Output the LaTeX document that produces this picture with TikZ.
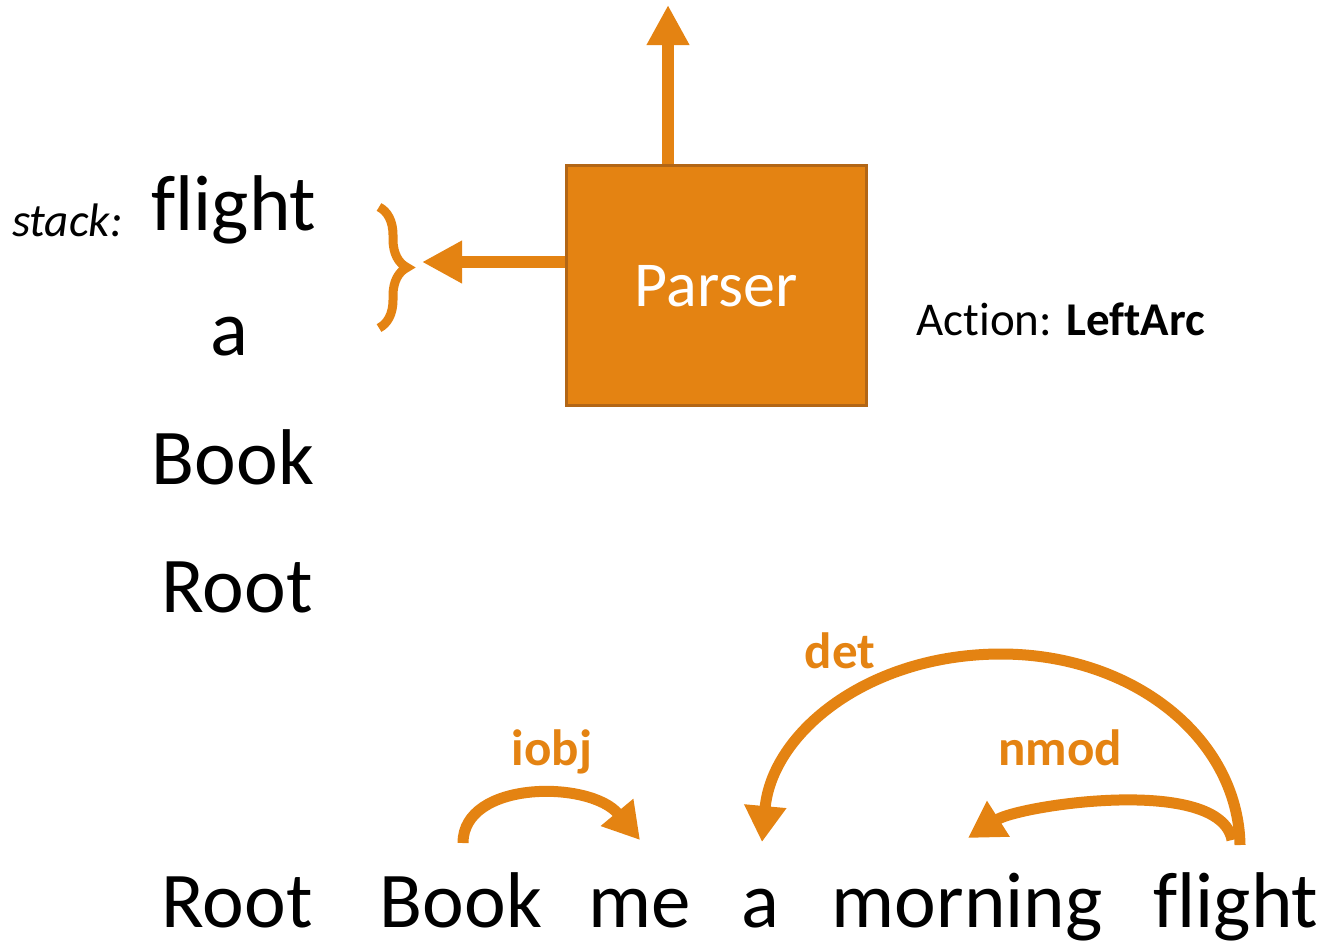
\documentclass[tikz,border=0pt]{standalone}
\usepackage{fontspec}
\setmainfont{Carlito}[Ligatures=NoCommon]
\usetikzlibrary{arrows.meta,decorations.pathreplacing}
\definecolor{parserorange}{RGB}{228,131,18}
\definecolor{parseredge}{RGB}{178,102,22}
\tikzset{
  word/.style={font=\fontsize{39.5}{47}\selectfont, inner sep=0pt, text depth=0pt, anchor=base},
  deplabel/.style={font=\fontsize{25.5}{30}\selectfont\bfseries, text=parserorange, inner sep=0pt, anchor=base},
  deparc/.style={draw=parserorange, line width=5.5pt, -{Triangle[length=18pt,width=20pt]}},
  bigarrow/.style={draw=parserorange, line width=6pt, -{Triangle[length=20pt,width=20pt]}},
}
\begin{document}
\begin{tikzpicture}[x=0.5pt,y=-0.5pt]
    \useasboundingbox (0,0) rectangle (1325,943);

    \node[draw=parseredge, line width=1.5pt, fill=parserorange, minimum width=150pt, minimum height=120pt,
          text=white, text depth=0pt, font=\fontsize{32}{38}\selectfont] (parser) at (716,285.5) {Parser};
    \node[anchor=base west, inner sep=0pt, font=\fontsize{23.5}{28}\selectfont] (action) at (916,335) {Action: \textbf{LeftArc}};

    \node[anchor=base east, inner sep=0pt, font=\fontsize{23.5}{28}\selectfont\itshape] (stacklbl) at (123,236) {stack:};
    \node[word] (flightS) at (234,230) {flight};
    \node[word] (aS) at (229,355) {a};
    \node[word] (bookS) at (233,484) {Book};
    \node[word] (rootS) at (237,612) {Root};

    \node[word] (rootB) at (237,927) {Root};
    \node[word] (bookB) at (461,927) {Book};
    \node[word] (meB) at (640,927) {me};
    \node[word] (aB) at (760,927) {a};
    \node[word] (morningB) at (967,927) {morning};
    \node[word] (flightB) at (1236,927) {flight};

    \coordinate (outTop) at (668,5);
    \coordinate (braceTip) at (422,262);
    \coordinate (braceTop) at (379,207);
    \coordinate (braceBot) at (379,328);
    \coordinate (detPeak) at (1001,654);

    \draw[bigarrow] ([xshift=-24pt]parser.north) -- (outTop);
    \draw[bigarrow] ([yshift=11.75pt]parser.west) -- (braceTip);
    \draw[parserorange, line width=4.5pt, decorate, decoration={brace, amplitude=14pt}] (braceTop) -- (braceBot);

    \draw[deparc] ([shift={(2,-84)}]bookB.base) .. controls +(0,-63) and +(-50,-60) .. ([shift={(0,-87)}]meB.base);
    \draw[deparc] ([shift={(4,-82)}]flightB.base) .. controls +(-2,-107) and +(132,0) .. (detPeak)
        .. controls +(-132,0) and +(10,-110) .. ([shift={(2,-85)}]aB.base);
    \draw[deparc] ([shift={(-4,-87)}]flightB.base) .. controls +(-12,-65) and +(52,-33) .. ([shift={(1,-89)}]morningB.base);

    \node[deplabel] (iobjlbl) at (552,765) {iobj};
    \node[deplabel] (detlbl) at (840,668) {det};
    \node[deplabel] (nmodlbl) at (1060,765) {nmod};
\end{tikzpicture}
\end{document}
